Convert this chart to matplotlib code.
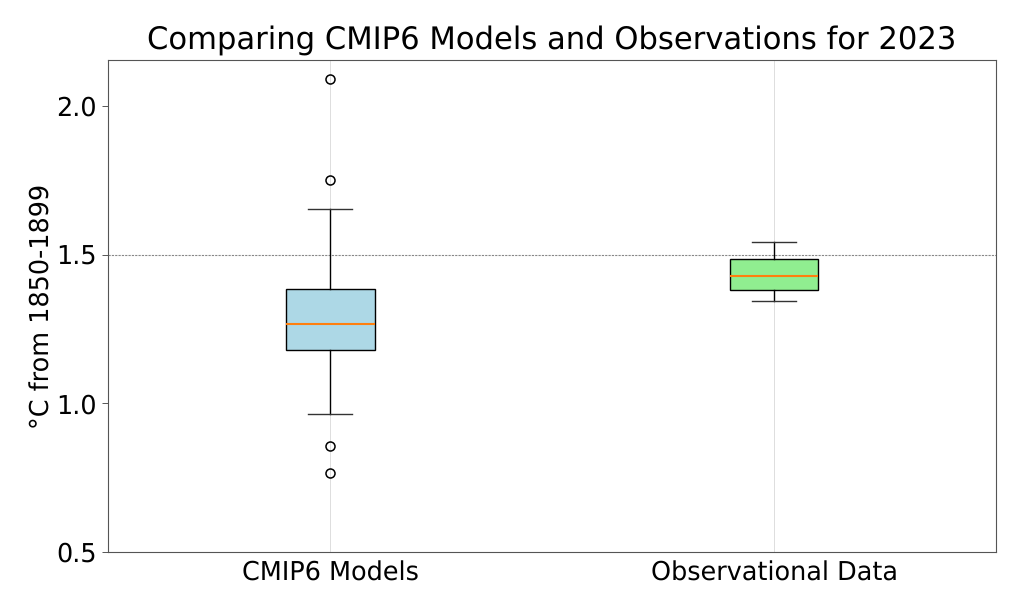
import matplotlib
matplotlib.use("Agg")
import matplotlib.pyplot as plt

plt.rcParams["text.hinting"] = "no_hinting"

labels = ["CMIP6 Models", "Observational Data"]
whislo = [0.964, 1.344]
q1 = [1.18, 1.381]
med = [1.268, 1.428]
q3 = [1.385, 1.484]
whishi = [1.654, 1.543]
fliers = [[0.766, 0.857, 1.751, 2.09], []]
box_colors = ["lightblue", "lightgreen"]
yticks = [0.5, 1.0, 1.5, 2.0]

stats = [
    dict(label=labels[i], whislo=whislo[i], q1=q1[i], med=med[i], q3=q3[i],
         whishi=whishi[i], fliers=fliers[i])
    for i in range(len(labels))
]

fig = plt.figure(figsize=(10.24, 6.14), dpi=100)
ax = fig.add_axes([108.3 / 1024, 1 - 552 / 614, 887.7 / 1024, 492 / 614])

bp = ax.bxp(stats, positions=[1, 2], widths=0.2, patch_artist=True,
            boxprops=dict(linewidth=1.0), whiskerprops=dict(linewidth=1.0),
            capprops=dict(linewidth=1.0, color="#333333"),
            medianprops=dict(linewidth=1.5, color="C1"),
            flierprops=dict(markersize=6.5, markeredgewidth=1.1))
for patch, c in zip(bp["boxes"], box_colors):
    patch.set_facecolor(c)

ax.axhline(1.5, color="#888888", linewidth=0.8, dashes=(2, 1), zorder=1)
ax.xaxis.grid(True, color="#dddddd", linewidth=0.7)
ax.set_axisbelow(True)

ax.set_xlim(0.5, 2.5)
ax.set_ylim(0.5, 2.155)
ax.set_yticks(yticks)
ax.tick_params(axis="both", labelsize=18.4, color="#555555", width=0.7)
ax.tick_params(axis="x", length=0, pad=6.5)
ax.tick_params(axis="y", length=4, pad=4.5)
for s in ax.spines.values():
    s.set_color("#555555")
    s.set_linewidth(0.8)

ax.set_ylabel("°C from 1850-1899", fontsize=18.4, labelpad=1)
ax.set_title("Comparing CMIP6 Models and Observations for 2023", fontsize=22.1, pad=7.5)

fig.savefig("out.png", dpi=100)
